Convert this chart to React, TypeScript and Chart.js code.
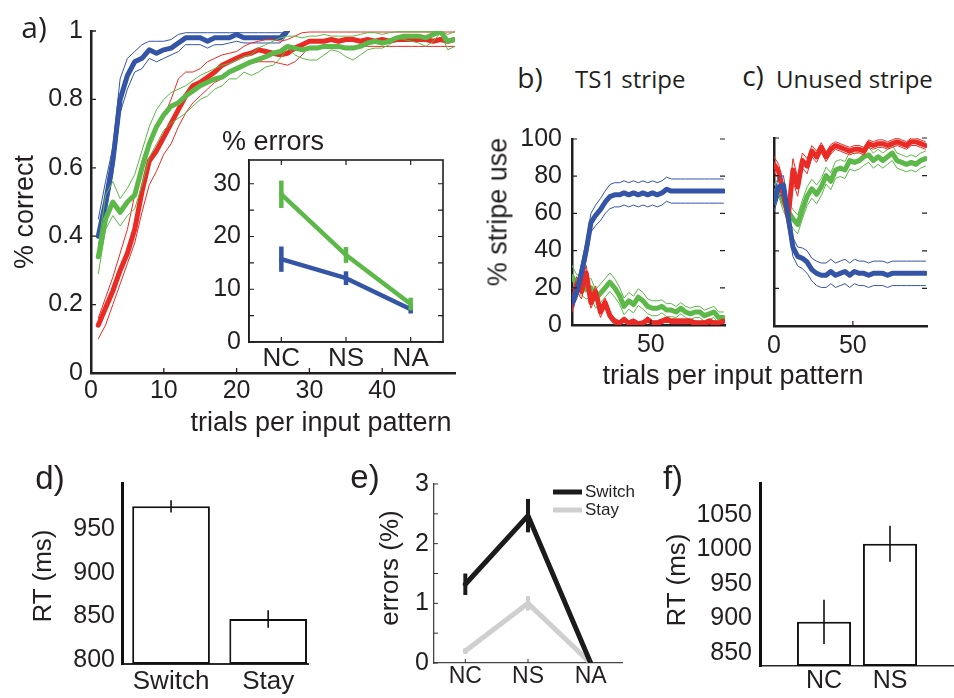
import React, { useEffect, useRef } from 'react';
import { Chart, registerables } from 'chart.js';

Chart.register(...registerables);

const SANS = "'Liberation Sans', Arial, Helvetica, sans-serif";
const MYR = "'Open Sans', 'Noto Sans', sans-serif";
const INK = '#231f20';
const BLUE = '#3454a6';
const RED = '#ea2a24';
const GREEN = '#5cb848';

// ---------------- panel a: % correct ----------------
const aXTicks = [0, 10, 20, 30, 40];
const aYTicks = [0, 0.2, 0.4, 0.6, 0.8, 1];
const aBlueMean = [0.40, 0.50, 0.62, 0.80, 0.87, 0.91, 0.92, 0.945, 0.935, 0.945, 0.95, 0.965, 0.98, 0.98, 0.98, 0.97, 0.98, 0.98, 0.98, 0.99, 0.98, 0.98, 0.98, 0.98, 0.98, 0.98, 1.0];
const aBlueHi = [0.45, 0.56, 0.66, 0.86, 0.92, 0.94, 0.96, 0.97, 0.97, 0.97, 0.975, 0.99, 0.995, 0.995, 0.995, 0.995, 0.995, 0.995, 0.995, 0.995, 0.995, 0.995, 0.995, 0.995, 0.995, 0.995, 0.995];
const aBlueLo = [0.37, 0.46, 0.58, 0.76, 0.83, 0.88, 0.89, 0.92, 0.91, 0.92, 0.93, 0.94, 0.96, 0.96, 0.96, 0.95, 0.96, 0.96, 0.965, 0.97, 0.965, 0.965, 0.965, 0.965, 0.965, 0.965, 0.99];
const aRedMean = [0.14, 0.19, 0.24, 0.30, 0.35, 0.42, 0.53, 0.62, 0.65, 0.69, 0.73, 0.77, 0.81, 0.84, 0.85, 0.865, 0.88, 0.90, 0.91, 0.92, 0.93, 0.935, 0.945, 0.94, 0.935, 0.93, 0.935, 0.95, 0.96, 0.97, 0.97, 0.97, 0.975, 0.97, 0.975, 0.975, 0.97, 0.975, 0.97, 0.975, 0.97, 0.975, 0.975, 0.975, 0.975, 0.975, 0.97, 0.975, 0.97, 0.975];
const aRedHi = [0.16, 0.22, 0.28, 0.35, 0.42, 0.52, 0.62, 0.68, 0.72, 0.75, 0.80, 0.86, 0.88, 0.88, 0.89, 0.91, 0.92, 0.93, 0.935, 0.94, 0.955, 0.965, 0.97, 0.975, 0.975, 0.97, 0.975, 0.985, 0.995, 0.997, 0.997, 0.997, 0.997, 0.997, 0.997, 0.997, 0.997, 0.997, 0.997, 0.997, 0.997, 0.997, 0.997, 0.997, 0.997, 0.997, 0.997, 0.997, 0.997, 0.997];
const aRedLo = [0.10, 0.14, 0.20, 0.26, 0.32, 0.38, 0.47, 0.55, 0.59, 0.64, 0.67, 0.72, 0.76, 0.79, 0.81, 0.83, 0.85, 0.86, 0.88, 0.89, 0.90, 0.905, 0.91, 0.91, 0.91, 0.905, 0.90, 0.91, 0.93, 0.955, 0.955, 0.955, 0.955, 0.955, 0.955, 0.955, 0.955, 0.955, 0.955, 0.955, 0.955, 0.955, 0.955, 0.955, 0.955, 0.955, 0.955, 0.955, 0.955, 0.955];
const aGreenMean = [0.34, 0.45, 0.50, 0.47, 0.50, 0.52, 0.60, 0.67, 0.72, 0.755, 0.78, 0.79, 0.81, 0.825, 0.84, 0.85, 0.86, 0.865, 0.88, 0.89, 0.90, 0.91, 0.917, 0.925, 0.935, 0.94, 0.955, 0.95, 0.945, 0.95, 0.95, 0.955, 0.955, 0.955, 0.95, 0.95, 0.955, 0.965, 0.97, 0.965, 0.97, 0.98, 0.985, 0.985, 0.985, 0.98, 0.99, 0.998, 0.97, 0.975];
const aGreenHi = [0.37, 0.52, 0.56, 0.51, 0.54, 0.58, 0.65, 0.72, 0.77, 0.80, 0.82, 0.83, 0.84, 0.855, 0.87, 0.88, 0.89, 0.90, 0.905, 0.915, 0.925, 0.93, 0.95, 0.96, 0.97, 0.98, 0.985, 0.985, 0.98, 0.985, 0.985, 0.99, 0.985, 0.985, 0.985, 0.985, 0.99, 0.995, 0.995, 0.99, 0.995, 0.998, 0.998, 0.998, 0.998, 0.998, 0.998, 0.998, 0.99, 0.998];
const aGreenLo = [0.29, 0.42, 0.46, 0.43, 0.46, 0.48, 0.55, 0.63, 0.67, 0.71, 0.73, 0.745, 0.76, 0.78, 0.80, 0.81, 0.83, 0.84, 0.86, 0.86, 0.88, 0.87, 0.88, 0.895, 0.90, 0.92, 0.95, 0.93, 0.92, 0.915, 0.915, 0.93, 0.945, 0.94, 0.925, 0.915, 0.93, 0.945, 0.95, 0.95, 0.96, 0.98, 0.975, 0.97, 0.965, 0.955, 0.97, 0.995, 0.945, 0.955];

// inset: % errors
const insetCats = ['NC', 'NS', 'NA'];
const insetYTicks = [0, 5, 10, 15, 20, 25, 30];
const insetGreen = [28, 16.5, 7.2];
const insetGreenErr = [2.6, 1.5, 1.2];
const insetBlue = [15.7, 12.1, 6.2];
const insetBlueErr = [2.4, 1.3, 0.8];

// ---------------- panels b, c: % stripe use ----------------
const bcX = [0, 3, 6, 9, 12, 15, 18, 21, 24, 27, 30, 33, 36, 39, 42, 45, 48, 51, 54, 57, 60, 63, 66, 69, 72, 75, 78, 81, 84, 87, 90, 93, 96];
const bXTicks = [50];
const cXTicks = [0, 50];
const bcYTicks = [0, 20, 40, 60, 80, 100];
const bBlue = [12, 18, 28, 40, 55, 59, 62, 66, 69, 70, 70, 71, 70, 71, 70, 71, 70, 71, 70, 71, 73, 72, 72, 72, 72, 72, 72, 72, 72, 72, 72, 72, 72];
const bBlueSem = [3, 4, 5, 5, 5, 5.5, 6, 6, 6.5, 6.5, 6.5, 6.5, 6.5, 6.5, 6.5, 6.5, 6.5, 6.5, 6.5, 6.5, 6.5, 6.5, 6.5, 6.5, 6.5, 6.5, 6.5, 6.5, 6.5, 6.5, 6.5, 6.5, 6.5];
const bRed = [10, 22, 18, 28, 12, 18, 7, 12, 5, 2, 1, 3, 1, 2, 0.5, 1, 3, 1, 1, 2, 3, 2, 2, 2, 2, 2, 1, 1, 1, 2, 1, 1, 2];
const bRedSem = [3, 4, 4, 4, 3, 3, 3, 2.5, 2, 1.5, 1.3, 1.3, 1.3, 1.3, 1.3, 1.3, 1.3, 1.3, 1.3, 1.3, 1.3, 1.3, 1.3, 1.3, 1.3, 1.3, 1.3, 1.3, 1.3, 1.3, 1.3, 1.3, 1.3];
const bGreen = [26, 22, 21, 19, 20, 14, 17, 20, 23, 20, 16, 10, 13, 11, 15, 13, 10, 9, 9, 10, 8, 8, 7, 9, 7, 6, 7, 7, 5, 6, 7, 4, 4];
const bGreenSem = [6, 5, 5, 5, 5, 5, 5, 5, 5, 5, 4.5, 4.5, 4.5, 4.5, 4.5, 4.5, 4, 4, 4, 3.5, 3.5, 3.5, 3, 3, 3, 3, 3, 3, 3, 3, 3, 3, 3];
const cBlue = [66, 74, 75, 58, 42, 37, 36, 34, 30, 28, 27, 27, 29, 27, 28, 29, 27, 29, 28, 28, 27, 28, 28, 28, 27, 28, 28, 28, 28, 28, 28, 28, 28];
const cBlueSem = [5, 5, 5, 5, 5, 5, 5.5, 6, 6, 6.5, 6.5, 6.5, 6.5, 6.5, 6.5, 6.5, 6.5, 6.5, 6.5, 6.5, 6.5, 6.5, 6.5, 6.5, 6.5, 6.5, 6.5, 6.5, 6.5, 6.5, 6.5, 6.5, 6.5];
const cRed = [86, 82, 70, 58, 83, 74, 88, 85, 93, 90, 95, 90, 94, 96, 95, 94, 93, 94, 94, 93, 97, 96, 97, 97, 96, 97, 98, 97, 96, 98, 98, 97, 96];
const cRedSem = [4, 4, 5, 6, 6, 5, 4, 4, 3, 3, 2.5, 2.5, 2.5, 2, 2, 2, 2, 2, 2, 2, 2, 2, 2, 2, 2, 2, 2, 2, 2, 2, 2, 2, 2];
const cGreen = [70, 74, 66, 61, 57, 54, 62, 69, 73, 70, 74, 80, 77, 83, 84, 83, 88, 87, 88, 90, 91, 88, 90, 88, 90, 92, 88, 87, 86, 87, 86, 88, 89];
const cGreenSem = [5, 5, 5, 5, 5, 5, 5, 5, 5, 5, 4.5, 4.5, 4.5, 4.5, 4.5, 4.5, 4.5, 4.5, 4.5, 4.5, 4, 4, 4, 4, 4, 4, 4, 4, 4, 4, 4, 4, 4];

// ---------------- panel d ----------------
const dCats = ['Switch', 'Stay'];
const dRT = [976, 847];
const dErr = [7, 10];
const dYTicks = [800, 850, 900, 950];

// ---------------- panel e ----------------
const eCats = ['NC', 'NS', 'NA'];
const eYTicks = [0, 0.5, 1, 1.5, 2, 2.5, 3];
const eSwitch = [1.32, 2.47, 0];
const eSwitchErr = [0.18, 0.28, 0];
const eStay = [0.2, 1.0, 0];
const eStayErr = [0.05, 0.12, 0];

// ---------------- panel f ----------------
const fCats = ['NC', 'NS'];
const fRT = [895, 1008];
const fErr = [32, 26];
const fYTicks = [850, 900, 950, 1000, 1050];

// ---------------- helpers ----------------
const idx = (n: number) => Array.from({ length: n }, (_, i) => i + 1);
const pts = (xs: number[], ys: number[]) => ys.map((y, i) => ({ x: xs[i], y }));

function lineDs(data: any[], color: string, width: number, label = '', extra: any = {}) {
  return {
    label, data, borderColor: color, backgroundColor: color, borderWidth: width,
    pointRadius: 0, pointHoverRadius: 0, tension: 0, fill: false,
    borderJoinStyle: 'round', borderCapStyle: 'round', ...extra,
  };
}

function bandDs(xs: number[], mean: number[], lo: number[], hi: number[], color: string, thick: number) {
  return [lineDs(pts(xs, mean), color, thick), lineDs(pts(xs, hi), color, 1), lineDs(pts(xs, lo), color, 1)];
}
function semDs(xs: number[], mean: number[], sem: number[], color: string, thick: number) {
  return bandDs(xs, mean, mean.map((m, i) => m - sem[i]), mean.map((m, i) => m + sem[i]), color, thick);
}

function axis(o: any) {
  return {
    type: 'linear', min: o.min, max: o.max, offset: false,
    afterBuildTicks: (s: any) => { s.ticks = o.ticks.map((v: number) => ({ value: v })); },
    afterFit: (s: any) => { if (o.horizontal) s.height = o.fit; else s.width = o.fit; },
    grid: { display: false, drawTicks: false, offset: false },
    border: { display: true, color: o.bc ?? INK, width: o.bw ?? 2 },
    ticks: {
      display: o.show !== false, autoSkip: false, maxRotation: 0, minRotation: 0,
      padding: o.pad ?? 4, color: INK, font: { family: SANS, size: o.size ?? 25 },
      callback: (v: number, i: number) => (o.label ? o.label(v, i) : String(v)),
    },
  };
}

const inTicks = {
  id: 'inTicks',
  afterDraw(chart: any, _a: any, o: any) {
    if (!o || !o.show) return;
    const { ctx, chartArea: a, scales } = chart;
    const len = o.len ?? 5;
    ctx.save();
    ctx.strokeStyle = o.color ?? INK;
    ctx.lineWidth = o.width ?? 1.2;
    ctx.beginPath();
    scales.y.ticks.forEach((t: any) => {
      const p = scales.y.getPixelForValue(t.value);
      if (o.left) { ctx.moveTo(a.left, p); ctx.lineTo(a.left + len, p); }
      if (o.right) { ctx.moveTo(a.right, p); ctx.lineTo(a.right - len, p); }
    });
    scales.x.ticks.forEach((t: any) => {
      const p = scales.x.getPixelForValue(t.value);
      if (o.bottom) { ctx.moveTo(p, a.bottom); ctx.lineTo(p, a.bottom - len); }
      if (o.top) { ctx.moveTo(p, a.top); ctx.lineTo(p, a.top + len); }
    });
    ctx.stroke();
    if (o.box) {
      ctx.lineWidth = o.boxWidth ?? 1.5;
      ctx.strokeRect(a.left, a.top, a.right - a.left, a.bottom - a.top);
    }
    ctx.restore();
  },
};

const errorBars = {
  id: 'errorBars',
  afterDatasetsDraw(chart: any) {
    const { ctx, scales } = chart;
    const list = chart.data.datasets.slice().reverse();
    list.forEach((d: any) => {
      if (!d.errors) return;
      ctx.save();
      ctx.strokeStyle = d.errorColor ?? d.borderColor;
      ctx.lineWidth = d.errorWidth ?? 1.5;
      ctx.lineCap = 'butt';
      d.data.forEach((p: any, j: number) => {
        const e = d.errors[j];
        if (!e) return;
        const px = scales.x.getPixelForValue(p.x);
        ctx.beginPath();
        ctx.moveTo(px, scales.y.getPixelForValue(p.y - e));
        ctx.lineTo(px, scales.y.getPixelForValue(p.y + e));
        ctx.stroke();
      });
      ctx.restore();
    });
  },
};

const lineLegend = {
  id: 'lineLegend',
  afterDraw(chart: any, _a: any, o: any) {
    if (!o || !o.show) return;
    const ctx = chart.ctx;
    ctx.save();
    chart.data.datasets.forEach((d: any, i: number) => {
      const y = o.y + i * o.gap;
      ctx.strokeStyle = d.borderColor;
      ctx.lineWidth = o.lineWidth;
      ctx.beginPath();
      ctx.moveTo(o.x, y);
      ctx.lineTo(o.x + o.len, y);
      ctx.stroke();
      ctx.fillStyle = INK;
      ctx.font = o.fontCss;
      ctx.textBaseline = 'middle';
      ctx.fillText(d.label, o.x + o.len + o.textGap, y);
    });
    ctx.restore();
  },
};

const base = (padding: any, pluginOpts: any = {}) => ({
  animation: false, responsive: false, events: [],
  layout: { padding },
  plugins: { legend: { display: false }, tooltip: { enabled: false }, ...pluginOpts },
});

// ---------------- chart configs ----------------
function cfgA(): any {
  const xs = idx(50);
  const bx = idx(27);
  return {
    type: 'line',
    data: {
      datasets: [
        ...bandDs(xs, aGreenMean, aGreenLo, aGreenHi, GREEN, 5),
        ...bandDs(xs, aRedMean, aRedLo, aRedHi, RED, 5),
        ...bandDs(bx, aBlueMean, aBlueLo, aBlueHi, BLUE, 5),
      ],
    },
    options: {
      ...base({ top: 31, right: 15, left: 0, bottom: 0 }, { inTicks: { show: true, left: true, bottom: true, len: 5, width: 1.3 } }),
      scales: {
        x: axis({ min: 0, max: 50, ticks: aXTicks, horizontal: true, fit: 67, bw: 2.5, pad: 3 }),
        y: axis({ min: 0, max: 1, ticks: aYTicks, fit: 91, bw: 2.5, pad: 8 }),
      },
    },
    plugins: [inTicks],
  };
}

function cfgInset(): any {
  const xs = [1, 2, 3];
  return {
    type: 'line',
    data: {
      datasets: [
        lineDs(pts(xs, insetGreen), GREEN, 4.5, '', { errors: insetGreenErr, errorWidth: 4.5 }),
        lineDs(pts(xs, insetBlue), BLUE, 4.5, '', { errors: insetBlueErr, errorWidth: 4.5 }),
      ],
    },
    options: {
      ...base({ top: 40, right: 17, left: 0, bottom: 0 }, { inTicks: { show: true, left: true, right: true, top: true, bottom: true, box: true, len: 5, width: 1.2, boxWidth: 1.6 } }),
      scales: {
        x: axis({ min: 0.5, max: 3.5, ticks: [1, 2, 3], horizontal: true, fit: 58, bw: 1.6, pad: 1, size: 26, label: (_v: number, i: number) => insetCats[i] }),
        y: axis({ min: 0, max: 34.5, ticks: insetYTicks, fit: 59, bw: 1.6, pad: 8, label: (v: number) => (v % 10 === 0 ? String(v) : '') }),
      },
    },
    plugins: [inTicks, errorBars],
  };
}

function cfgStripe(which: 'b' | 'c'): any {
  const isB = which === 'b';
  const ds = isB
    ? [...semDs(bcX, bBlue, bBlueSem, BLUE, 5), ...semDs(bcX, bRed, bRedSem, RED, 5), ...semDs(bcX, bGreen, bGreenSem, GREEN, 5)]
    : [...semDs(bcX, cBlue, cBlueSem, BLUE, 5), ...semDs(bcX, cRed, cRedSem, RED, 5), ...semDs(bcX, cGreen, cGreenSem, GREEN, 5)];
  return {
    type: 'line',
    data: { datasets: ds },
    options: {
      ...base(isB ? { top: 39, right: 15, left: 0, bottom: 0 } : { top: 38, right: 27, left: 0, bottom: 0 },
        { inTicks: { show: true, left: true, right: true, bottom: true, len: 5, width: 1.2 } }),
      scales: {
        x: axis({ min: 0, max: 97, ticks: isB ? bXTicks : cXTicks, horizontal: true, fit: isB ? 35 : 34, bw: 2.5, pad: 5 }),
        y: axis({ min: 0, max: 100, ticks: bcYTicks, fit: isB ? 92 : 34, bw: 2.5, pad: 10, show: isB }),
      },
    },
    plugins: [inTicks],
  };
}

function barCfg(cats: string[], vals: number[], errs: number[], yTicks: number[], o: any): any {
  const xs = idx(vals.length);
  return {
    type: 'bar',
    data: {
      datasets: [{
        data: pts(xs, vals), base: o.yMin, backgroundColor: '#ffffff', borderColor: '#111111',
        borderWidth: 2, borderSkipped: false, barPercentage: o.barPct, categoryPercentage: 1,
        errors: errs, errorColor: '#111111', errorWidth: 1.6,
      }],
    },
    options: {
      ...base(o.padding),
      scales: {
        x: axis({ min: o.xMin, max: o.xMax, ticks: xs, horizontal: true, fit: o.xFit, bw: o.xbw, bc: '#2a2a2a', pad: o.xPad, size: o.xSize, label: (_v: number, i: number) => cats[i] }),
        y: axis({ min: o.yMin, max: o.yMax, ticks: yTicks, fit: o.yFit, bw: 3, bc: '#111111', pad: o.yPad }),
      },
    },
    plugins: [errorBars],
  };
}

function cfgE(): any {
  const xs = [1, 2, 3];
  return {
    type: 'line',
    data: {
      datasets: [
        lineDs(pts(xs, eSwitch), '#1b1b1b', 5, 'Switch', { errors: eSwitchErr, errorWidth: 4 }),
        lineDs(pts(xs, eStay), '#cfcfcf', 5, 'Stay', { errors: eStayErr, errorWidth: 4 }),
      ],
    },
    options: {
      ...base({ top: 34, right: 12, left: 0, bottom: 0 }, {
        inTicks: { show: true, left: true, bottom: true, len: 4, width: 1, color: '#333' },
        lineLegend: { show: true, x: 233, y: 42, gap: 18, len: 29, lineWidth: 5, textGap: 3, fontCss: `17px ${SANS}` },
      }),
      scales: {
        x: axis({ min: 0.5, max: 3.5, ticks: [1, 2, 3], horizontal: true, fit: 35, bw: 1.3, bc: '#444', pad: 0, size: 23, label: (_v: number, i: number) => eCats[i] }),
        y: axis({ min: 0, max: 3, ticks: eYTicks, fit: 114, bw: 1.3, bc: '#444', pad: 5, size: 25, label: (v: number) => (Number.isInteger(v) ? String(v) : '') }),
      },
    },
    plugins: [inTicks, errorBars, lineLegend],
  };
}

// ---------------- components ----------------
function ChartBox({ left, top, width, height, make }: { left: number; top: number; width: number; height: number; make: () => any }) {
  const ref = useRef<HTMLCanvasElement | null>(null);
  useEffect(() => {
    const chart = new Chart(ref.current as HTMLCanvasElement, make());
    return () => chart.destroy();
  }, []);
  return <canvas ref={ref} width={width} height={height} style={{ position: 'absolute', left, top, width, height }} />;
}

function Txt({ x, y, text, size, font = SANS, rot = false, anchor = 'center' }: { x: number; y: number; text: string; size: number; font?: string; rot?: boolean; anchor?: string }) {
  const tx = anchor === 'left' ? '0' : '-50%';
  return (
    <div style={{
      position: 'absolute', left: x, top: y, whiteSpace: 'nowrap', lineHeight: 1,
      fontFamily: font, fontSize: size, color: INK,
      transform: `translate(${tx}, -50%)${rot ? ' rotate(-90deg)' : ''}`,
    }}>{text}</div>
  );
}

export default function App() {
  return (
    <div style={{ position: 'absolute', left: 0, top: 0, width: 954, height: 698, background: '#fff', overflow: 'hidden' }}>
      <ChartBox left={0} top={0} width={470} height={440} make={cfgA} />
      <ChartBox left={190} top={120} width={270} height={280} make={cfgInset} />
      <ChartBox left={480} top={100} width={260} height={260} make={() => cfgStripe('b')} />
      <ChartBox left={740} top={100} width={214} height={260} make={() => cfgStripe('c')} />
      <ChartBox left={0} top={450} width={320} height={248} make={() => barCfg(dCats, dRT, dErr, dYTicks, {
        padding: { top: 33, right: 12, left: 0, bottom: 0 }, xMin: 0.495, xMax: 2.41, yMin: 795.4, yMax: 1002.7,
        xFit: 34, yFit: 122, xbw: 2, xPad: 2, yPad: 7, barPct: 0.8, xSize: 26,
      })} />
      <ChartBox left={320} top={450} width={314} height={248} make={cfgE} />
      <ChartBox left={634} top={450} width={320} height={248} make={() => barCfg(fCats, fRT, fErr, fYTicks, {
        padding: { top: 33, right: 0, left: 0, bottom: 0 }, xMin: 0.03, xMax: 2.97, yMin: 831, yMax: 1096,
        xFit: 32, yFit: 126, xbw: 1.5, xPad: 0, yPad: 8, barPct: 0.82, xSize: 25,
      })} />

      <Txt x={34} y={27} text="a)" size={30} font={MYR} />
      <Txt x={24} y={212} text="% correct" size={27} rot />
      <Txt x={321} y={422} text="trials per input pattern" size={27} />
      <Txt x={273} y={141} text="% errors" size={27} />

      <Txt x={530} y={77} text="b)" size={28} font={MYR} />
      <Txt x={575} y={79} text="TS1 stripe" size={24} font={MYR} anchor="left" />
      <Txt x={753} y={75} text="c)" size={28} font={MYR} />
      <Txt x={776} y={79} text="Unused stripe" size={24} font={MYR} anchor="left" />
      <Txt x={498} y={212} text="% stripe use" size={27} rot />
      <Txt x={733} y={375} text="trials per input pattern" size={27} />

      <Txt x={50} y={477} text="d)" size={33} />
      <Txt x={42} y={576} text="RT (ms)" size={26} rot />
      <Txt x={365} y={476} text="e)" size={33} />
      <Txt x={389} y={568} text="errors (%)" size={26} rot />
      <Txt x={673} y={477} text="f)" size={33} />
      <Txt x={676} y={580} text="RT (ms)" size={26} rot />
    </div>
  );
}
